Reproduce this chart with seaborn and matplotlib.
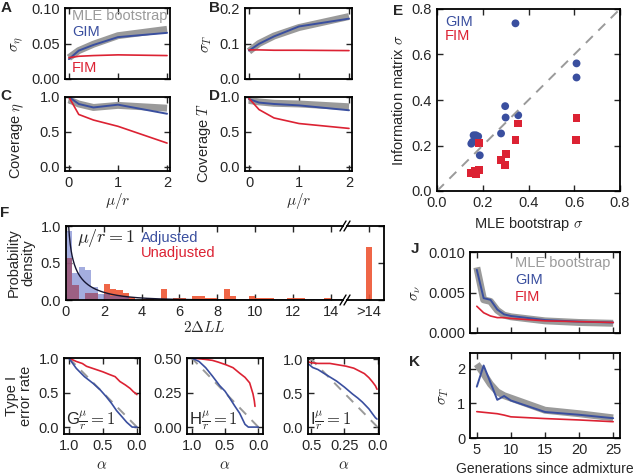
import numpy as np
import pandas as pd
import matplotlib
matplotlib.use("Agg")
import matplotlib.pyplot as plt
import seaborn as sns

# ---------------- data ----------------
mu_r = [0, 0.2, 0.5, 1, 2]
A_boot = [0.030, 0.040, 0.049, 0.061, 0.070]
A_gim = [0.028, 0.040, 0.048, 0.059, 0.065]
A_fim = [0.030, 0.032, 0.033, 0.034, 0.033]
B_boot = [0.078, 0.100, 0.121, 0.145, 0.176]
B_gim = [0.080, 0.099, 0.120, 0.148, 0.170]
B_fim = [0.082, 0.082, 0.081, 0.081, 0.080]
C_boot = [0.96, 0.90, 0.85, 0.88, 0.84]
C_gim = [1.00, 0.90, 0.85, 0.89, 0.76]
C_fim = [1.00, 0.75, 0.67, 0.58, 0.34]
D_boot = [0.95, 0.93, 0.91, 0.90, 0.86]
D_gim = [0.97, 0.92, 0.90, 0.88, 0.81]
D_fim = [0.98, 0.82, 0.70, 0.62, 0.55]

E_gim_x = [0.343, 0.610, 0.610, 0.298, 0.300, 0.355, 0.280, 0.160, 0.170, 0.180, 0.150, 0.155, 0.187]
E_gim_y = [0.737, 0.561, 0.499, 0.373, 0.323, 0.333, 0.253, 0.245, 0.245, 0.240, 0.208, 0.216, 0.157]
E_fim_x = [0.610, 0.607, 0.355, 0.343, 0.300, 0.279, 0.298, 0.184, 0.184, 0.150, 0.172, 0.165]
E_fim_y = [0.322, 0.226, 0.297, 0.223, 0.164, 0.135, 0.116, 0.211, 0.094, 0.079, 0.076, 0.090]

F_binw = 1.0 / 3.0
F_adjusted = [0.93, 0.36, 0.44, 0.41, 0.17, 0.08, 0.08, 0.06, 0.06, 0.04, 0.02]
F_unadjusted = [0.57, 0.20, 0.00, 0.10, 0.10, 0.00, 0.21, 0.15, 0.13, 0.10, 0.04,
                0.00, 0.02, 0.02, 0.00, 0.15, 0.00, 0.03, 0.03, 0.00, 0.06, 0.06,
                0.03, 0.03, 0.00, 0.15, 0.06, 0.00, 0.00, 0.06, 0.03, 0.03, 0.03,
                0.00, 0.00, 0.03, 0.03, 0.03, 0.00, 0.00, 0.00, 0.03, 0.00, 0.00]
F_over14 = 0.72

G_red_a = [1.0, 0.89, 0.80, 0.74, 0.65, 0.59, 0.50, 0.40, 0.32, 0.25, 0.17, 0.10, 0.05, 0.02, 0.0]
G_red_y = [1.0, 0.95, 0.92, 0.88, 0.85, 0.83, 0.80, 0.76, 0.73, 0.66, 0.61, 0.56, 0.51, 0.49, 0.47]
G_blue_a = [1.0, 0.89, 0.77, 0.64, 0.54, 0.45, 0.37, 0.30, 0.22, 0.15, 0.07, 0.0]
G_blue_y = [1.0, 0.85, 0.73, 0.63, 0.54, 0.44, 0.34, 0.24, 0.15, 0.07, 0.0, 0.0]

H_red_a = [1.0, 0.9, 0.8, 0.69, 0.6, 0.48, 0.38, 0.28, 0.2, 0.13, 0.08, 0.06, 0.05]
H_red_y = [0.50, 0.495, 0.49, 0.483, 0.47, 0.45, 0.43, 0.39, 0.36, 0.32, 0.24, 0.19, 0.15]
H_blue_a = [1.0, 0.89, 0.79, 0.69, 0.58, 0.5, 0.43, 0.35, 0.28, 0.2, 0.15, 0.0]
H_blue_y = [0.50, 0.475, 0.43, 0.37, 0.30, 0.26, 0.21, 0.15, 0.10, 0.02, 0.0, 0.0]

I_red_a = [0.55, 0.50, 0.45, 0.36, 0.30, 0.24, 0.18, 0.14, 0.10, 0.066, 0.04, 0.017, 0.005]
I_red_y = [0.98, 0.95, 0.94, 0.94, 0.92, 0.90, 0.87, 0.83, 0.79, 0.73, 0.67, 0.61, 0.56]
I_blue_a = [0.55, 0.52, 0.49, 0.45, 0.41, 0.36, 0.31, 0.25, 0.19, 0.15, 0.115, 0.066, 0.04, 0.017, 0.005]
I_blue_y = [0.95, 0.93, 0.88, 0.85, 0.80, 0.74, 0.68, 0.59, 0.49, 0.43, 0.37, 0.27, 0.20, 0.14, 0.12]

gens = [5, 6, 7, 8, 9, 10, 15, 20, 25]
J_boot = [0.0081, 0.0041, 0.0039, 0.0028, 0.0022, 0.0020, 0.0015, 0.0013, 0.0012]
J_gim = [0.0078, 0.0043, 0.0041, 0.0029, 0.0023, 0.0021, 0.0016, 0.0014, 0.0013]
J_fim = [0.0033, 0.0025, 0.0021, 0.0019, 0.0019, 0.0018, 0.0015, 0.0014, 0.0013]
K_boot = [2.13, 1.85, 1.55, 1.33, 1.22, 1.15, 0.80, 0.70, 0.58]
K_gim = [1.48, 2.09, 1.60, 1.10, 1.21, 1.08, 0.75, 0.67, 0.57]
K_fim = [0.76, 0.74, 0.72, 0.70, 0.66, 0.61, 0.56, 0.52, 0.47]

# ---------------- style ----------------
sns.set_style("ticks")
plt.rcParams.update({
    "font.family": ["Liberation Sans", "DejaVu Sans"],
    "mathtext.fontset": "cm",
    "xtick.direction": "in", "ytick.direction": "in",
    "xtick.top": True, "ytick.right": True,
    "xtick.major.size": 4, "ytick.major.size": 4,
    "xtick.major.width": 1.0, "ytick.major.width": 1.0,
    "axes.linewidth": 1.3,
    "axes.edgecolor": "black",
    "xtick.labelsize": 10.5, "ytick.labelsize": 10.5,
    "axes.labelsize": 10.5,
})

GREY = "#9a9a9a"
BLUE = "#3a4f9f"
RED = "#dc2233"
W, H = 640, 476

fig = plt.figure(figsize=(6.4, 4.76), dpi=100)


def add_ax(l, t, r, b):
    return fig.add_axes([l / W, 1 - b / H, (r - l) / W, (b - t) / H])


def three(ax, x, boot, gim, fim, lw_boot=5):
    sns.lineplot(x=x, y=boot, color=GREY, lw=lw_boot, ax=ax, sort=False, solid_capstyle="butt")
    sns.lineplot(x=x, y=gim, color=BLUE, lw=1.4, ax=ax, sort=False)
    sns.lineplot(x=x, y=fim, color=RED, lw=1.2, ax=ax, sort=False)


def weighted_hist(ax, heights, edges, color, alpha):
    df = pd.DataFrame({"x": [(edges[i] + edges[i + 1]) / 2 for i in range(len(heights))],
                       "w": list(heights)})
    sns.histplot(data=df, x="x", weights="w", bins=list(edges), stat="count",
                 color=color, alpha=alpha, linewidth=0, ax=ax)


# ---- A ----
axA = add_ax(65, 8, 170, 79)
three(axA, mu_r, A_boot, A_gim, A_fim)
axA.set_xlim(-0.08, 2.06); axA.set_ylim(0, 0.1)
axA.set_xticks([0, 1, 2]); axA.set_xticklabels([])
axA.set_yticks([0, 0.05, 0.10]); axA.set_yticklabels(["0.00", "0.05", "0.10"])
axA.set_ylabel(r"$\sigma_\eta$", fontsize=11)
axA.text(0.067, 0.89, "MLE bootstrap", color=GREY, transform=axA.transAxes, va="center", fontsize=10.5)
axA.text(0.067, 0.66, "GIM", color=BLUE, transform=axA.transAxes, va="center", fontsize=10.5)
axA.text(0.067, 0.155, "FIM", color=RED, transform=axA.transAxes, va="center", fontsize=10.5)

# ---- B ----
axB = add_ax(245, 8, 352, 79)
three(axB, mu_r, B_boot, B_gim, B_fim)
axB.set_xlim(-0.08, 2.06); axB.set_ylim(0, 0.2)
axB.set_xticks([0, 1, 2]); axB.set_xticklabels([])
axB.set_yticks([0, 0.1, 0.2])
axB.set_ylabel(r"$\sigma_T$", fontsize=11)

# ---- C ----
axC = add_ax(65, 97, 170, 171)
three(axC, mu_r, C_boot, C_gim, C_fim)
axC.set_xlim(-0.08, 2.06); axC.set_ylim(-0.06, 1.0)
axC.set_xticks([0, 1, 2]); axC.set_yticks([0, 0.5, 1.0])
axC.set_xlabel(r"$\mu/r$", labelpad=1, fontsize=11)
axC.set_ylabel(r"Coverage $\eta$")
axC.yaxis.set_label_coords(-0.37, 0.41)

# ---- D ----
axD = add_ax(245, 97, 352, 171)
three(axD, mu_r, D_boot, D_gim, D_fim)
axD.set_xlim(-0.08, 2.06); axD.set_ylim(-0.06, 1.0)
axD.set_xticks([0, 1, 2]); axD.set_yticks([0, 0.5, 1.0])
axD.set_xlabel(r"$\mu/r$", labelpad=1, fontsize=11)
axD.set_ylabel(r"Coverage $T$")
axD.yaxis.set_label_coords(-0.30, 0.38)

# ---- E ----
axE = add_ax(437, 9, 620, 191)
axE.plot([0, 0.8], [0, 0.8], ls=(0, (5, 4)), color=GREY, lw=1.4)
sns.scatterplot(x=E_gim_x, y=E_gim_y, color=BLUE, marker="o", s=32, edgecolor="none", ax=axE)
sns.scatterplot(x=E_fim_x, y=E_fim_y, color=RED, marker="s", s=32, edgecolor="none", ax=axE)
axE.set_xlim(0, 0.8); axE.set_ylim(0, 0.8)
axE.set_xticks(np.arange(0, 0.81, 0.2)); axE.set_yticks(np.arange(0, 0.81, 0.2))
axE.set_xlabel(r"MLE bootstrap $\sigma$")
axE.set_ylabel(r"Information matrix $\sigma$")
axE.text(0.044, 0.93, "GIM", color=BLUE, transform=axE.transAxes, va="center", fontsize=10.5)
axE.text(0.044, 0.85, "FIM", color=RED, transform=axE.transAxes, va="center", fontsize=10.5)

# ---- F ----
axF = add_ax(66, 226, 343, 300)
axF2 = add_ax(347, 226, 384, 300)
edges_u = [i * F_binw for i in range(len(F_unadjusted) + 1)]
edges_a = [i * F_binw for i in range(len(F_adjusted) + 1)]
weighted_hist(axF, F_unadjusted, edges_u, "#ee5533", 0.9)
weighted_hist(axF, F_adjusted, edges_a, "#4a5cc0", 0.5)
# theoretical chi-square(1) density reference curve
xx = np.linspace(0.004, 14.7, 600)
axF.plot(xx, np.exp(-xx / 2) / np.sqrt(2 * np.pi * xx), color="#151530", lw=1.0)
axF.set_xlim(0, 14.65); axF.set_ylim(0, 1.0)
axF.set_xticks(range(0, 15, 2)); axF.set_yticks([0, 0.5, 1.0])
axF.set_ylabel("Probability\ndensity", linespacing=1.0)
axF.set_xlabel(r"$2\Delta LL$", labelpad=1, fontsize=11)
axF.spines["right"].set_visible(False)
axF.tick_params(right=False)
axF.text(0.04, 0.84, r"$\mu/r=1$", transform=axF.transAxes, va="center", fontsize=13)
axF.text(0.27, 0.84, "Adjusted", color=BLUE, transform=axF.transAxes, va="center", fontsize=10.5)
axF.text(0.27, 0.63, "Unadjusted", color=RED, transform=axF.transAxes, va="center", fontsize=10.5)

weighted_hist(axF2, [F_over14], [1.0, 1.0 + F_binw], "#ee5533", 0.9)
axF2.set_xlim(0, 1.96); axF2.set_ylim(0, 1.0)
axF2.set_xticks([1.0 + F_binw / 2]); axF2.set_xticklabels([">14"])
axF2.set_yticks([0, 0.5, 1.0]); axF2.set_yticklabels([])
axF2.set_ylabel(""); axF2.set_xlabel("")
axF2.spines["left"].set_visible(False)
axF2.tick_params(left=False)
# break marks
for ax_, xpos, wpx in ((axF, 1.0, 343 - 66), (axF2, 0.0, 384 - 347)):
    dx = 6 / wpx
    dy = 5 / 74
    for yy in (0, 1):
        ax_.plot([xpos - dx * 0.5, xpos + dx * 0.5], [yy - dy, yy + dy], transform=ax_.transAxes,
                 color="black", lw=1.0, clip_on=False)

# ---- G, H, I ----
def typeI(ax, ra, ry, ba, by, slope, xl, yl, letter):
    ax.plot([0, 1.0], [0, slope], ls=(0, (5, 4)), color=GREY, lw=1.4)
    sns.lineplot(x=ra, y=ry, color=RED, lw=1.2, ax=ax, sort=False)
    sns.lineplot(x=ba, y=by, color=BLUE, lw=1.2, ax=ax, sort=False)
    ax.set_xlim(*xl); ax.set_ylim(*yl)
    ax.set_xlabel(r"$\alpha$", fontsize=11)
    ax.text(0.03, 0.18, letter + r"$\frac{\mu}{r}=1$", transform=ax.transAxes, va="center", fontsize=12)


axG = add_ax(64, 358, 140, 434)
typeI(axG, G_red_a, G_red_y, G_blue_a, G_blue_y, 1.0, (1.07, -0.045), (-0.1, 1.0), "G")
axG.set_xticks([1.0, 0.5, 0.0]); axG.set_yticks([0, 0.5, 1.0])
axG.set_ylabel("Type I\nerror rate", linespacing=1.0)

axH = add_ax(187, 358, 263, 434)
typeI(axH, H_red_a, H_red_y, H_blue_a, H_blue_y, 0.5, (1.07, -0.07), (-0.05, 0.5), "H")
axH.set_xticks([1.0, 0.5, 0.0]); axH.set_yticks([0, 0.25, 0.5])
axH.set_yticklabels(["0.00", "0.25", "0.50"])

axI = add_ax(308, 358, 379, 434)
typeI(axI, I_red_a, I_red_y, I_blue_a, I_blue_y, 2.0, (0.525, -0.01), (-0.1, 1.02), "I")
axI.set_xticks([0.5, 0.25, 0.0]); axI.set_xticklabels(["0.5", "0.25", "0.0"])
axI.set_yticks([0, 0.5, 1.0])

# ---- J ----
axJ = add_ax(470, 252, 620, 333)
three(axJ, gens, J_boot, J_gim, J_fim, lw_boot=5)
axJ.set_xlim(4, 26); axJ.set_ylim(0, 0.010)
axJ.set_xticks([5, 10, 15, 20, 25]); axJ.set_xticklabels([])
axJ.set_yticks([0, 0.005, 0.010]); axJ.set_yticklabels(["0.000", "0.005", "0.010"])
axJ.set_ylabel(r"$\sigma_\nu$", fontsize=11)
axJ.text(0.3, 0.86, "MLE bootstrap", color=GREY, transform=axJ.transAxes, va="center", fontsize=10.5)
axJ.text(0.3, 0.65, "GIM", color=BLUE, transform=axJ.transAxes, va="center", fontsize=10.5)
axJ.text(0.3, 0.44, "FIM", color=RED, transform=axJ.transAxes, va="center", fontsize=10.5)

# ---- K ----
axK = add_ax(470, 353, 620, 438)
three(axK, gens, K_boot, K_gim, K_fim, lw_boot=5)
axK.set_xlim(4, 26); axK.set_ylim(0, 2.45)
axK.set_xticks([5, 10, 15, 20, 25]); axK.set_yticks([0, 1, 2])
axK.set_ylabel(r"$\sigma_T$", fontsize=11)
axK.set_xlabel("Generations since admixture", fontsize=10)

# panel letters
for lab, x, y in [("A", 6, 8), ("B", 214, 8), ("C", 6, 96), ("D", 214, 96),
                  ("E", 398, 11), ("F", 5, 213), ("J", 415, 249), ("K", 415, 362)]:
    fig.text(x / W, 1 - y / H, lab, fontsize=11, fontweight="bold", ha="center", va="center")

fig.savefig("out.png", dpi=100)
